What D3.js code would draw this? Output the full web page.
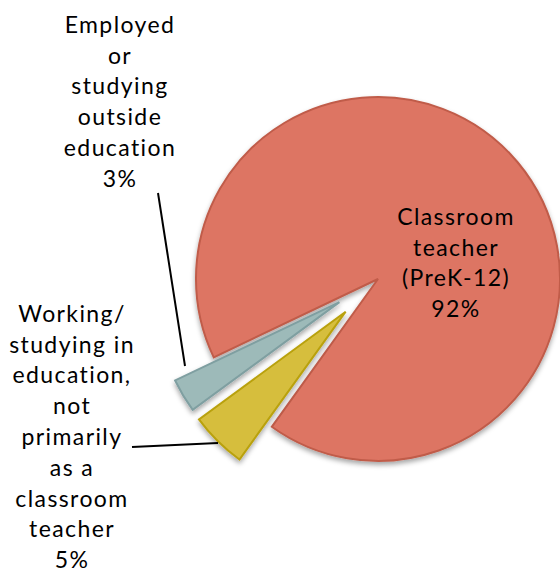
<!DOCTYPE html>
<html lang="en">
<head>
    <meta charset="UTF-8">
    <title>Pie</title>
    <script src="https://d3js.org/d3.v7.min.js"></script>
    <style>
        body {
            margin: 0;
            background: #fff;
        }
        .lbl {
            font-family: "Lato", "Open Sans", sans-serif;
            font-size: 23px;
            letter-spacing: 1.4px;
            fill: #000;
        }
    </style>
</head>
<body>
<svg id="pie" width="560" height="573"></svg>
<script>
    // slices, in drawing order (clockwise from startAngle)
    const categories = ["Classroom teacher (PreK-12)", "Working/studying in education, not primarily as a classroom teacher", "Employed or studying outside education"];
    const values = [92, 5, 3];
    const fills = ["#dd7563", "#d6be3e", "#9dbab9"];
    const strokes = ["#c05c4a", "#b9a10c", "#7f9fa1"];
    const explode = [0, 46, 45];

    // label text, one line per entry
    const labelLines = [
        ["Classroom", "teacher", "(PreK-12)", "92%"],
        ["Working/", "studying in", "education,", "not", "primarily", "as a", "classroom", "teacher", "5%"],
        ["Employed", "or", "studying", "outside", "education", "3%"]
    ];

    const svg = d3.select("svg#pie");
    const cx = 378, cy = 279, r = 182;

    const defs = svg.append("defs");
    const shadow = defs.append("filter").attr("id", "shadow")
        .attr("x", "-20%").attr("y", "-20%").attr("width", "140%").attr("height", "140%");
    shadow.append("feDropShadow")
        .attr("dx", 0).attr("dy", 3).attr("stdDeviation", 2.5)
        .attr("flood-color", "#000").attr("flood-opacity", 0.35);

    const pie = d3.pie().sort(null)
        .startAngle(-115.5 * Math.PI / 180)
        .endAngle((360 - 115.5) * Math.PI / 180);
    const arcs = pie(values);
    const arc = d3.arc().innerRadius(0).outerRadius(r);

    const g = svg.append("g").attr("transform", "translate(" + cx + "," + cy + ")");

    g.selectAll("path").data(arcs).join("path")
        .attr("d", arc)
        .attr("transform", (d, i) => {
            const a = (d.startAngle + d.endAngle) / 2;
            return "translate(" + (Math.sin(a) * explode[i]) + "," + (-Math.cos(a) * explode[i]) + ")";
        })
        .attr("fill", (d, i) => fills[i])
        .attr("stroke", (d, i) => strokes[i])
        .attr("stroke-width", 2)
        .attr("stroke-linejoin", "miter")
        .attr("filter", "url(#shadow)");

    // leader lines
    svg.append("line")
        .attr("x1", 158).attr("y1", 193)
        .attr("x2", 185).attr("y2", 366)
        .attr("stroke", "#000").attr("stroke-width", 2);
    svg.append("line")
        .attr("x1", 132).attr("y1", 447)
        .attr("x2", 218).attr("y2", 443)
        .attr("stroke", "#000").attr("stroke-width", 2);

    // labels
    const labelPos = [[456, 217], [72, 314], [120, 25]];
    const lineH = 30.8;
    labelLines.forEach((lines, k) => {
        const t = svg.append("text")
            .attr("class", "lbl")
            .attr("text-anchor", "middle");
        lines.forEach((s, j) => {
            t.append("tspan")
                .attr("x", labelPos[k][0])
                .attr("y", labelPos[k][1] + j * lineH)
                .attr("dy", "0.34em")
                .text(s);
        });
    });
</script>
</body>
</html>
